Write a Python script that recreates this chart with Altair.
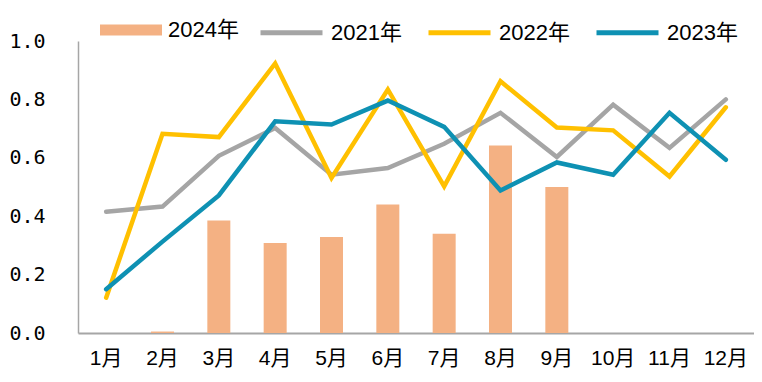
import altair as alt
import pandas as pd

months = ["1月", "2月", "3月", "4月", "5月", "6月", "7月", "8月", "9月", "10月", "11月", "12月"]
bar_year = "2024年"
bar_values = [None, 0.005, 0.385, 0.308, 0.329, 0.44, 0.34, 0.642, 0.50, None, None, None]
line_years = ["2021年", "2022年", "2023年"]
v2021 = [0.415, 0.433, 0.607, 0.702, 0.542, 0.565, 0.648, 0.754, 0.603, 0.782, 0.634, 0.80]
v2022 = [0.121, 0.682, 0.671, 0.923, 0.531, 0.834, 0.502, 0.862, 0.704, 0.694, 0.536, 0.773]
v2023 = [0.15, 0.313, 0.471, 0.725, 0.714, 0.796, 0.706, 0.488, 0.584, 0.542, 0.754, 0.593]
y_ticks = [0.0, 0.2, 0.4, 0.6, 0.8, 1.0]

bar_color = "#F4B183"
line_colors = ["#A5A5A5", "#FFC000", "#0E91B3"]

bar_df = pd.DataFrame({"month": months, "value": bar_values, "series": bar_year}).dropna()
line_df = pd.concat([
    pd.DataFrame({"month": months, "value": vals, "series": yr})
    for yr, vals in zip(line_years, [v2021, v2022, v2023])
])

label_font = "Liberation Sans, Noto Sans CJK SC"

x_enc = alt.X(
    "month:N", sort=months, title=None,
    scale=alt.Scale(paddingInner=0, paddingOuter=0),
    axis=alt.Axis(labelAngle=0, labelFont=label_font, labelFontSize=21, labelColor="#000000",
                  ticks=False, domainColor="#A6A6A6", domainWidth=2, labelPadding=14),
)
y_enc = alt.Y(
    "value:Q", title=None,
    scale=alt.Scale(domain=[0, 1], nice=False),
    axis=alt.Axis(values=y_ticks, format=".1f", grid=False, ticks=False,
                  labelFont="DejaVu Sans Mono", labelFontSize=20, labelColor="#000000",
                  domainColor="#A6A6A6", domainWidth=1.5, labelPadding=33),
)

bars = alt.Chart(bar_df).mark_bar(size=23).encode(
    x=x_enc,
    y=y_enc,
    fill=alt.Fill("series:N", scale=alt.Scale(domain=[bar_year], range=[bar_color]),
                  legend=alt.Legend(title=None, orient="none", legendX=22, legendY=-42,
                                    symbolType="M-1,-0.18H1V0.18H-1Z", symbolSize=3844,
                                    symbolStrokeWidth=0, symbolOpacity=1,
                                    labelFont=label_font, labelFontSize=22, labelColor="#000000",
                                    labelOffset=6)),
)

lines = alt.Chart(line_df).mark_line(strokeWidth=4.5, strokeCap="round", strokeJoin="miter").encode(
    x=x_enc,
    y=y_enc,
    stroke=alt.Stroke("series:N", scale=alt.Scale(domain=line_years, range=line_colors),
                      legend=alt.Legend(title=None, orient="none", legendX=180, legendY=-42,
                                        direction="horizontal", symbolType="stroke", symbolSize=3844,
                                        symbolStrokeWidth=5, columnPadding=16,
                                        labelFont=label_font, labelFontSize=22, labelColor="#000000",
                                        labelOffset=6)),
    detail="series:N",
)

chart = alt.layer(bars, lines).properties(
    width=676, height=292, autosize="none",
    padding={"left": 70, "top": 33, "right": 0, "bottom": 41},
).configure_view(stroke=None).configure_legend(symbolStrokeColor=None)

chart.save("out.html", embed_options={"renderer": "svg", "actions": False})
